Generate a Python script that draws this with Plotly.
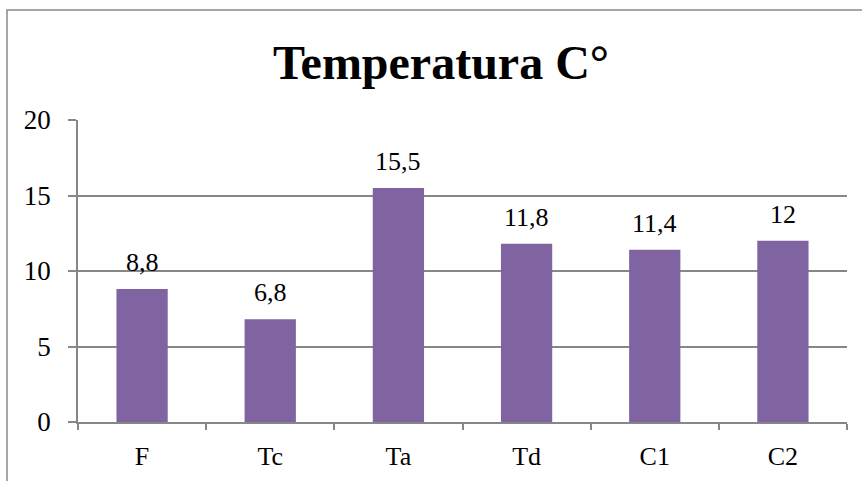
import plotly.graph_objects as go

categories = ["F", "Tc", "Ta", "Td", "C1", "C2"]
values = [8.8, 6.8, 15.5, 11.8, 11.4, 12]
y_ticks = [0, 5, 10, 15, 20]
title_text = "Temperatura C°"

def fmt(v):
    s = ("%g" % v)
    return s.replace(".", ",")

labels = [fmt(v) for v in values]

W, H = 862, 481
ml, mr, mt, mb = 78, 15, 120, 59
pw, ph = W - ml - mr, H - mt - mb

fig = go.Figure()
fig.add_trace(go.Bar(
    x=categories, y=values,
    marker=dict(color="#8064A2", line=dict(width=0)),
    width=0.4,
    hoverinfo="skip",
))

for c, v, t in zip(categories, values, labels):
    fig.add_annotation(
        x=c, y=v, text=t, showarrow=False, yanchor="bottom",
        yshift=10, font=dict(family="Liberation Serif", size=26, color="#000000"),
    )

gray = "#878787"
fig.update_layout(
    width=W, height=H,
    margin=dict(l=ml, r=mr, t=mt, b=mb, pad=0),
    paper_bgcolor="white", plot_bgcolor="white",
    showlegend=False,
    bargap=0.6,
    title=dict(text="<b>" + title_text + "</b>", x=441 / W, xanchor="center",
               y=1 - 62 / H, yanchor="middle",
               font=dict(family="Liberation Serif", size=48, color="#000000")),
    font=dict(family="Liberation Serif", size=26, color="#000000"),
    xaxis=dict(
        type="category", tickson="boundaries", ticks="outside", ticklen=6,
        tickcolor=gray, tickwidth=1.5, showline=True, linecolor=gray, linewidth=1.5,
        showgrid=False, tickfont=dict(family="Liberation Serif", size=26),
        ticklabelstandoff=10, fixedrange=True, automargin=False,
    ),
    yaxis=dict(
        range=[0, 20], tickvals=y_ticks, ticks="outside", ticklen=8,
        tickcolor=gray, tickwidth=1.5, showline=True, linecolor=gray, linewidth=1.5,
        showgrid=True, gridcolor=gray, gridwidth=1.5, zeroline=False,
        tickfont=dict(family="Liberation Serif", size=27),
        ticklabelstandoff=12, fixedrange=True, automargin=False,
    ),
)

# chart frame
x0 = (7 - ml) / pw
y1 = 1 + (mt - 10) / ph
fig.add_shape(type="rect", xref="paper", yref="paper",
              x0=x0, x1=1 + 40 / pw, y0=-0.5, y1=y1,
              line=dict(color="#8a8a8a", width=1.5), layer="below")

fig.write_html("out.html", config={"displayModeBar": False},
               post_script="document.body.style.margin='0';document.body.style.overflow='hidden';")
